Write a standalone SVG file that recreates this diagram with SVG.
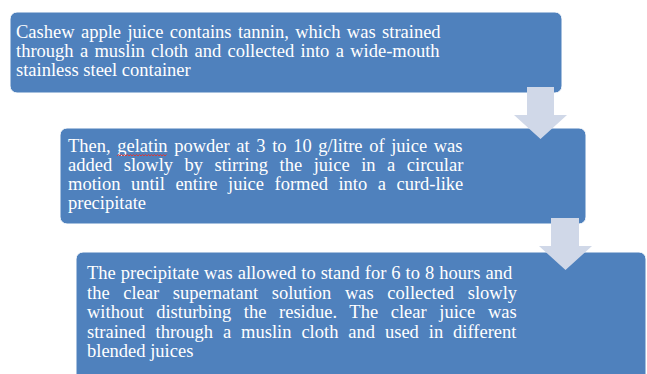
<svg xmlns="http://www.w3.org/2000/svg" width="647" height="374" viewBox="0 0 647 374">
<style>
.box{fill:#4F81BD;stroke:#FFFFFF;stroke-width:1}
.t{font-family:"Liberation Serif","Times New Roman",serif;font-size:18.5px;fill:#FFFFFF}
.arr{fill:#D0D8E8}
.sp{fill:none;stroke:#D83A3A;stroke-width:1}
</style>
<rect width="647" height="374" fill="#FFFFFF"/>
<g id="node1">
<rect class="box" x="10" y="12" width="552" height="81" rx="7"/>
<text class="t"><tspan x="16" y="38" word-spacing="1.8">Cashew apple juice contains tannin, which was strained</tspan><tspan x="16" y="57" word-spacing="1.7">through a muslin cloth and collected into a wide-mouth</tspan><tspan x="16" y="76">stainless steel container</tspan></text>
</g>
<g id="node2">
<rect class="box" x="60" y="128" width="526" height="96" rx="7"/>
<text class="t"><tspan x="68" y="152" word-spacing="2">Then, gelatin powder at 3 to 10 g/litre of juice was</tspan><tspan x="68" y="171" word-spacing="6.9">added slowly by stirring the juice in a circular</tspan><tspan x="68" y="190" word-spacing="5.9">motion until entire juice formed into a curd-like</tspan><tspan x="68" y="209">precipitate</tspan></text>
<path class="sp" d="M117,156 l1.5,-1.6 l1.5,1.6 l1.5,-1.6 l1.5,1.6 l1.5,-1.6 l1.5,1.6 l1.5,-1.6 l1.5,1.6 l1.5,-1.6 l1.5,1.6 l1.5,-1.6 l1.5,1.6 l1.5,-1.6 l1.5,1.6 l1.5,-1.6 l1.5,1.6 l1.5,-1.6 l1.5,1.6 l1.5,-1.6 l1.5,1.6 l1.5,-1.6 l1.5,1.6 l1.5,-1.6 l1.5,1.6 l1.5,-1.6 l1.5,1.6 l1.5,-1.6 l1.5,1.6 l1.5,-1.6 l1.5,1.6 l1.5,-1.6 l1.5,1.6 l1.5,-1.6"/>
</g>
<g id="node3">
<rect class="box" x="76" y="252" width="570" height="130" rx="7"/>
<text class="t"><tspan x="87" y="279" word-spacing="0.4">The precipitate was allowed to stand for 6 to 8 hours and</tspan><tspan x="87" y="298.5" word-spacing="9">the clear supernatant solution was collected slowly</tspan><tspan x="87" y="318" word-spacing="8">without disturbing the residue. The clear juice was</tspan><tspan x="87" y="337.5" word-spacing="5.3">strained through a muslin cloth and used in different</tspan><tspan x="87" y="357">blended juices</tspan></text>
</g>
<g id="connectors">
<path class="arr" d="M527,87 H554 V115 H567 L540.5,139 L514,115 H527 Z"/>
<path class="arr" d="M551,218 H579 V246 H592 L565.5,270 L539,246 H551 Z"/>
</g>
</svg>
